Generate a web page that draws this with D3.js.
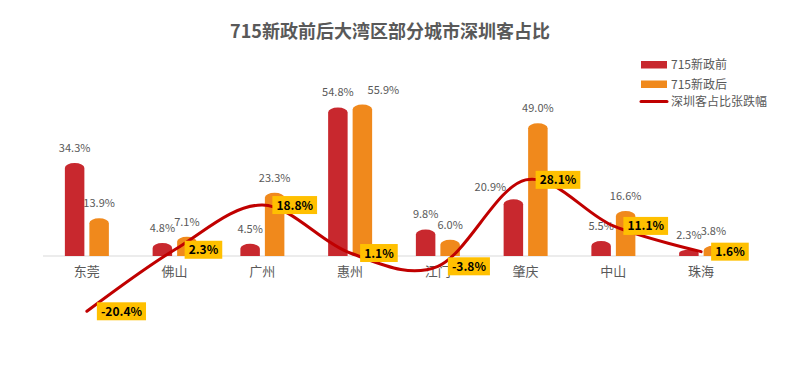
<!DOCTYPE html>
<html><head><meta charset="utf-8">
<script src="https://cdn.jsdelivr.net/npm/d3@7/dist/d3.min.js"></script>
<style>body{margin:0;background:#fff}svg{display:block;font-family:"Noto Sans CJK SC","Noto Sans",sans-serif}</style>
</head><body><svg id="c" width="788" height="366"></svg>
<script>
const categories = ["东莞","佛山","广州","惠州","江门","肇庆","中山","珠海"];
const before = [34.3, 4.8, 4.5, 54.8, 9.8, 20.9, 5.5, 2.3];
const after = [13.9, 7.1, 23.3, 55.9, 6.0, 49.0, 16.6, 3.8];
const change = [-20.4, 2.3, 18.8, 1.1, -3.8, 28.1, 11.1, 1.6];
const seriesNames = ["715新政前","715新政后","深圳客占比张跌幅"];
const title = "715新政前后大湾区部分城市深圳客占比";
const colors = {before:"#C8282E", after:"#F0891C", line:"#C00000", box:"#FFC000"};

const svg = d3.select("#c");
const x = d3.scaleBand().domain(categories).range([43, 745]);
const y = d3.scaleLinear().domain([-30, 60]).range([337.3, 93.4]);
const bw = 19.5, off = 12.25;
const fmt = v => v.toFixed(1) + "%";

svg.append("text").attr("x", 390).attr("y", 38).attr("text-anchor","middle")
  .attr("font-size", 18).attr("font-weight","bold").attr("fill","#595959").text(title);

svg.append("line").attr("x1", 43).attr("x2", 745).attr("y1", y(0)).attr("y2", y(0))
  .attr("stroke","#d9d9d9").attr("stroke-width",1);

function barPath(cx, v){
  const x0 = cx - bw/2, x1 = cx + bw/2, yb = y(0), yt = y(v);
  const h = yb - yt, ry = Math.min(5, h/2), rx = bw/2;
  return `M${x0},${yb}V${yt+ry}A${rx},${ry} 0 0 1 ${x1},${yt+ry}V${yb}Z`;
}
const cx = c => x(c) + x.bandwidth()/2;

// label nudges to avoid collisions (as in the reference layout)
const nudge = {"after-惠州": [21, 0], "before-肇庆": [-23, 3]};

const groups = [{key:"before", vals: before, dx: -off, color: colors.before},{key:"after", vals: after, dx: off, color: colors.after}];
groups.forEach(g => {
  svg.append("g").selectAll("path").data(categories).join("path")
    .attr("d", (c,i) => barPath(cx(c)+g.dx, g.vals[i])).attr("fill", g.color);
  svg.append("g").selectAll("text").data(categories).join("text")
    .attr("x", (c,i) => cx(c)+g.dx + ((nudge[g.key+"-"+c]||[0,0])[0]))
    .attr("y", (c,i) => y(g.vals[i]) - 11 + ((nudge[g.key+"-"+c]||[0,0])[1]))
    .attr("text-anchor","middle").attr("font-size",11).attr("fill","#595959")
    .text((c,i) => fmt(g.vals[i]));
});

svg.append("g").selectAll("text").data(categories).join("text")
  .attr("x", c => cx(c)).attr("y", 276).attr("text-anchor","middle")
  .attr("font-size",13).attr("fill","#595959").text(c => c);

const line = d3.line().x((d,i) => cx(categories[i])).y(d => y(d)).curve(d3.curveCatmullRom.alpha(0));
svg.append("path").datum(change).attr("d", line).attr("fill","none")
  .attr("stroke", colors.line).attr("stroke-width",3).attr("stroke-linecap","round");

const lg = svg.append("g").selectAll("g").data(categories).join("g")
  .attr("transform", (c,i) => `translate(${cx(c)+10},${y(change[i])})`);
lg.each(function(c,i){
  const g = d3.select(this);
  const t = g.append("text").attr("x",4).attr("y",4.5).attr("font-size",12).attr("font-weight","bold")
    .attr("fill","#000").text(fmt(change[i]));
  const w = t.node().getComputedTextLength();
  g.insert("rect","text").attr("x",0).attr("y",-9).attr("width", w+8).attr("height",18).attr("fill",colors.box);
});

const leg = svg.append("g").attr("transform","translate(641,0)");
[[colors.before, 61],[colors.after, 80.5]].forEach((d,i) => {
  leg.append("rect").attr("x",0).attr("y",d[1]).attr("width",26).attr("height",7.5).attr("fill",d[0]);
  leg.append("text").attr("x",30).attr("y",d[1]+8).attr("font-size",12).attr("fill","#595959").text(seriesNames[i]);
});
leg.append("line").attr("x1",0).attr("x2",26).attr("y1",101.5).attr("y2",101.5)
  .attr("stroke",colors.line).attr("stroke-width",3).attr("stroke-linecap","round");
leg.append("text").attr("x",30).attr("y",106).attr("font-size",12).attr("fill","#595959").text(seriesNames[2]);
</script></body></html>
